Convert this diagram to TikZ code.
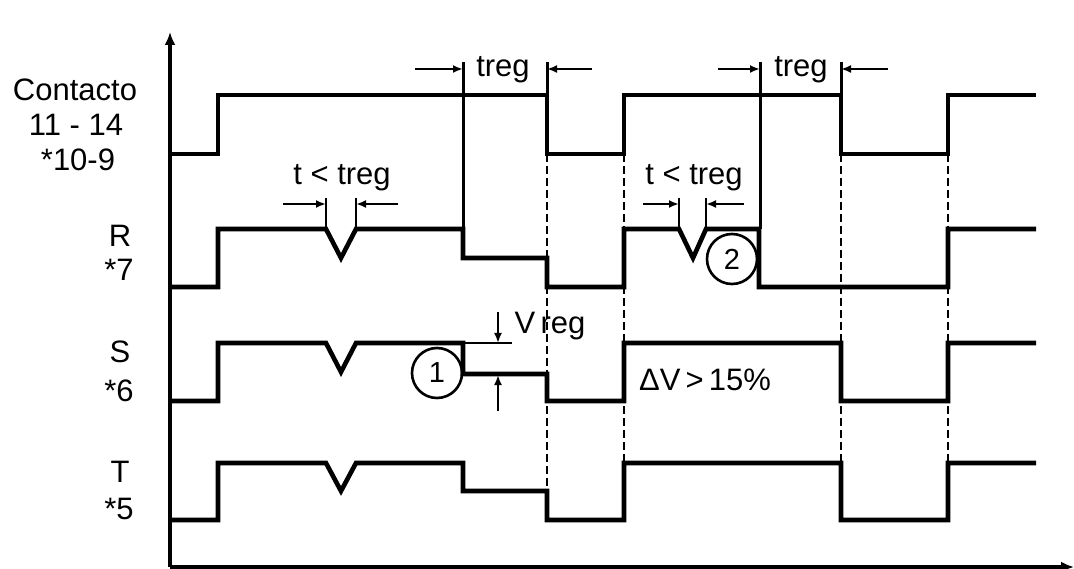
\documentclass[tikz,border=0pt]{standalone}
\usepackage{fontspec}
\setmainfont{Liberation Sans}
\usetikzlibrary{arrows.meta}
\begin{document}
\begin{tikzpicture}[x=1pt,y=-1pt,
  sig/.style={line width=4.6pt, line join=miter},
  axisline/.style={line width=3.4pt, -{Latex[length=13pt,width=11pt]}},
  regline/.style={line width=3pt},
  thinline/.style={line width=2.4pt},
  dimarrow/.style={line width=2.4pt, -{Latex[length=10pt,width=8pt]}},
  guide/.style={line width=2.8pt, dash pattern=on 8pt off 4pt},
  lbl/.style={font=\fontsize{31}{36}\selectfont, inner sep=0pt},
  txt/.style={font=\fontsize{31}{36}\selectfont, inner sep=0pt, anchor=base},
  num/.style={circle, draw, line width=2.6pt, minimum size=50pt, inner sep=0pt, font=\fontsize{29}{32}\selectfont}
]
\useasboundingbox (0,0) rectangle (1074,569);
\fill[white] (0,0) rectangle (1074,569);

% axes
\coordinate (origin) at (170,567);
\coordinate (ytip) at (170,32);
\coordinate (xtip) at (1074,567);
\draw[axisline] (origin) -- (ytip);
\draw[axisline] (origin) -- (xtip);

% guide (dashed) lines
\foreach \gx [count=\i] in {547,624,841,948} {
  \coordinate (gtop\i) at (\gx,154);
  \coordinate (gbot\i) at (\gx,520);
  \draw[guide] (gtop\i) -- (gbot\i);
}

% signal Contacto
\draw[sig] (170,154) -- (218,154) -- (218,95) -- (547,95) -- (547,154) -- (624,154) -- (624,95)
  -- (841,95) -- (841,154) -- (948,154) -- (948,95) -- (1036,95);
% signal R
\draw[sig] (170,287) -- (218,287) -- (218,229) -- (326,229) -- (341,258) -- (356,229) -- (463,229)
  -- (463,258) -- (547,258) -- (547,287) -- (624,287) -- (624,229) -- (679,229) -- (693,258)
  -- (706,229) -- (759,229) -- (759,287) -- (948,287) -- (948,229) -- (1036,229);
% signal S
\draw[sig] (170,401) -- (218,401) -- (218,343) -- (326,343) -- (341,372) -- (356,343) -- (463,343)
  -- (463,374) -- (547,374) -- (547,401) -- (624,401) -- (624,343) -- (841,343) -- (841,401)
  -- (948,401) -- (948,343) -- (1036,343);
% signal T
\draw[sig] (170,520) -- (218,520) -- (218,463) -- (326,463) -- (341,491) -- (356,463) -- (463,463)
  -- (463,491) -- (547,491) -- (547,520) -- (624,520) -- (624,463) -- (841,463) -- (841,520)
  -- (948,520) -- (948,463) -- (1036,463);

% treg markers
\coordinate (t1a) at (463,62); \coordinate (t1ab) at (463,229);
\coordinate (t1b) at (547,62); \coordinate (t1bb) at (547,95);
\coordinate (t2a) at (760,62); \coordinate (t2ab) at (760,229);
\coordinate (t2b) at (841,62); \coordinate (t2bb) at (841,95);
\draw[regline] (t1a) -- (t1ab);
\draw[regline] (t1b) -- (t1bb);
\draw[regline] (t2a) -- (t2ab);
\draw[regline] (t2b) -- (t2bb);
\coordinate (t1al) at (415,69); \coordinate (t1ae) at (463,69);
\coordinate (t1br) at (592,69); \coordinate (t1be) at (547,69);
\coordinate (t2al) at (718,69); \coordinate (t2ae) at (760,69);
\coordinate (t2br) at (888,69); \coordinate (t2be) at (841,69);
\draw[dimarrow] (t1al) -- (t1ae);
\draw[dimarrow] (t1br) -- (t1be);
\draw[dimarrow] (t2al) -- (t2ae);
\draw[dimarrow] (t2br) -- (t2be);
\node[txt] (treg1) at (503,77) {treg};
\node[txt] (treg2) at (801,77) {treg};

% t < treg markers
\coordinate (d1a) at (326,198); \coordinate (d1ab) at (326,229);
\coordinate (d1b) at (356,198); \coordinate (d1bb) at (356,229);
\coordinate (d2a) at (679,198); \coordinate (d2ab) at (679,229);
\coordinate (d2b) at (706,198); \coordinate (d2bb) at (706,229);
\draw[thinline] (d1a) -- (d1ab);
\draw[thinline] (d1b) -- (d1bb);
\draw[thinline] (d2a) -- (d2ab);
\draw[thinline] (d2b) -- (d2bb);
\coordinate (d1al) at (283,204); \coordinate (d1ae) at (326,204);
\coordinate (d1br) at (398,204); \coordinate (d1be) at (356,204);
\coordinate (d2al) at (643,204); \coordinate (d2ae) at (679,204);
\coordinate (d2br) at (744,204); \coordinate (d2be) at (706,204);
\draw[dimarrow] (d1al) -- (d1ae);
\draw[dimarrow] (d1br) -- (d1be);
\draw[dimarrow] (d2al) -- (d2ae);
\draw[dimarrow] (d2br) -- (d2be);
\node[txt] (tlt1) at (342,185) {t < treg};
\node[txt] (tlt2) at (694,185) {t < treg};

% V reg marker
\coordinate (vr0) at (463,343); \coordinate (vr1) at (512,343);
\draw[thinline] (vr0) -- (vr1);
\coordinate (va0) at (498,312); \coordinate (va1) at (498,343);
\coordinate (vb0) at (498,411); \coordinate (vb1) at (498,375);
\draw[dimarrow] (va0) -- (va1);
\draw[dimarrow] (vb0) -- (vb1);
\node[txt] (vreg) at (550,334) {V\,reg};
\node[txt] (dv) at (705,390) {ΔV\,>\,15\%};

% circled numbers
\node[num] (c1) at (437,373) {1};
\node[num] (c2) at (732,259) {2};

% left labels
\node[lbl] (lc1) at (75,90) {Contacto};
\node[lbl] (lc2) at (76,125) {11 - 14};
\node[lbl] (lc3) at (78,160) {*10-9};
\node[lbl] (lr1) at (120,236) {R};
\node[lbl] (lr2) at (119,270) {*7};
\node[lbl] (ls1) at (120,352) {S};
\node[lbl] (ls2) at (119,391) {*6};
\node[lbl] (lt1) at (120,472) {T};
\node[lbl] (lt2) at (119,509) {*5};
\end{tikzpicture}
\end{document}
